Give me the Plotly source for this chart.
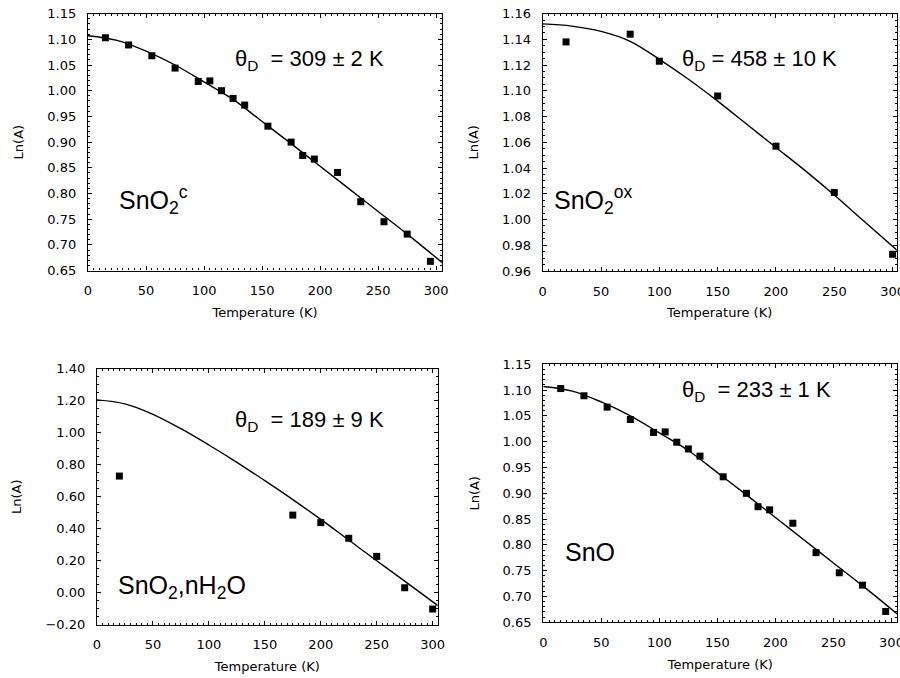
import plotly.graph_objects as go

# ---------------- data ----------------
# Panel 1 : SnO2^c
t_c = [15, 35, 55, 75, 95, 105, 115, 125, 135, 155, 175, 185, 195, 215, 235, 255, 275, 295]
ln_c = [1.103, 1.089, 1.068, 1.044, 1.018, 1.019, 1.000, 0.985, 0.972, 0.931, 0.900, 0.874,
        0.867, 0.841, 0.784, 0.745, 0.721, 0.668]
fit_t_c = [0, 25, 50, 75, 100, 125, 150, 175, 200, 225, 250, 275, 305]
fit_c = [1.107, 1.098, 1.077, 1.050, 1.017, 0.983, 0.940, 0.897, 0.853, 0.809, 0.765, 0.721, 0.666]

# Panel 2 : SnO2^ox
t_ox = [20, 75, 100, 150, 200, 250, 300]
ln_ox = [1.138, 1.144, 1.123, 1.096, 1.057, 1.021, 0.973]
fit_t_ox = [0, 25, 50, 75, 100, 125, 150, 175, 200, 225, 250, 275, 304]
fit_ox = [1.152, 1.1503, 1.1462, 1.1385, 1.1245, 1.109, 1.092, 1.074, 1.056, 1.038, 1.019, 0.999, 0.976]

# Panel 3 : SnO2,nH2O
t_h = [20, 175, 200, 225, 250, 275, 300]
ln_h = [0.729, 0.485, 0.438, 0.340, 0.227, 0.031, -0.102]
fit_t_h = [0, 25, 50, 75, 100, 125, 150, 175, 200, 225, 250, 275, 305]
fit_h = [1.205, 1.180, 1.115, 1.025, 0.923, 0.815, 0.700, 0.582, 0.458, 0.329, 0.200, 0.072, -0.082]

# Panel 4 : SnO
t_o = [15, 35, 55, 75, 95, 105, 115, 125, 135, 155, 175, 185, 195, 215, 235, 255, 275, 295]
ln_o = [1.103, 1.089, 1.067, 1.043, 1.018, 1.019, 0.999, 0.986, 0.972, 0.932, 0.900, 0.874,
        0.868, 0.842, 0.785, 0.746, 0.722, 0.671]
fit_t_o = [0, 25, 50, 75, 100, 125, 150, 175, 200, 225, 250, 275, 305]
fit_o = [1.107, 1.098, 1.077, 1.050, 1.017, 0.983, 0.940, 0.897, 0.853, 0.809, 0.765, 0.721, 0.666]

theta_labels = ["θ<sub>D</sub>\u00a0 = 309 ± 2 K", "θ<sub>D</sub> = 458 ± 10 K",
                "θ<sub>D</sub>\u00a0 = 189 ± 9 K", "θ<sub>D</sub>\u00a0 = 233 ± 1 K"]
sample_labels = ["SnO<sub>2</sub><sup>c</sup>", "SnO<sub>2</sub><sup>ox</sup>",
                 "SnO<sub>2</sub>,nH<sub>2</sub>O", "SnO"]
x_title = "Temperature (K)"
y_title = "Ln(A)"

# ---------------- layout ----------------
W, H = 900, 678
FONT = "Liberation Sans, Arial, sans-serif"
TICKFONT = "DejaVu Sans, sans-serif"

panels = [
    dict(t=t_c, y=ln_c, ft=fit_t_c, fy=fit_c, xd=(88, 442), yd=(13.6, 270.6),
         xr=[0, 305], yr=[0.65, 1.15], dy=0.05, mdy=0.01, th=(233, 60), sp=(117, 200)),
    dict(t=t_ox, y=ln_ox, ft=fit_t_ox, fy=fit_ox, xd=(542.7, 896.7), yd=(13.6, 271),
         xr=[0, 303.5], yr=[0.96, 1.16], dy=0.02, mdy=0.005, th=(680, 60), sp=(552, 200)),
    dict(t=t_h, y=ln_h, ft=fit_t_h, fy=fit_h, xd=(97, 437.7), yd=(368.7, 624.7),
         xr=[0, 304.5], yr=[-0.2, 1.4], dy=0.2, mdy=0.05, th=(233, 421), sp=(116, 587)),
    dict(t=t_o, y=ln_o, ft=fit_t_o, fy=fit_o, xd=(543.3, 897.3), yd=(364.3, 622.3),
         xr=[0, 305], yr=[0.65, 1.15], dy=0.05, mdy=0.01, th=(680, 391), sp=(563, 552)),
]

fig = go.Figure()
layout = dict(width=W, height=H, autosize=False, margin=dict(l=0, r=0, t=0, b=0, pad=0, autoexpand=False),
              paper_bgcolor="white", plot_bgcolor="white", showlegend=False,
              font=dict(family=FONT, color="black"))
annotations = []

for i, p in enumerate(panels):
    n = "" if i == 0 else str(i + 1)
    xa, ya = "x" + n, "y" + n
    fig.add_trace(go.Scatter(x=p["ft"], y=p["fy"], mode="lines",
                             line=dict(color="black", width=1.4, shape="spline", smoothing=1.0),
                             xaxis=xa, yaxis=ya, hoverinfo="skip"))
    fig.add_trace(go.Scatter(x=p["t"], y=p["y"], mode="markers", cliponaxis=False,
                             marker=dict(symbol="square", size=7, color="black"),
                             xaxis=xa, yaxis=ya))
    common = dict(showline=True, linecolor="black", linewidth=1.3, mirror="allticks",
                  ticks="inside", ticklen=4, tickcolor="black", showgrid=False, zeroline=False,
                  automargin=False,
                  tickfont=dict(family=TICKFONT, size=13, color="black"))
    layout["xaxis" + n] = dict(common, domain=[p["xd"][0] / W, p["xd"][1] / W], range=p["xr"],
                               anchor=ya, tick0=0, dtick=50, ticklabelstandoff=8,
                               ticklabeloverflow="allow",
                               minor=dict(ticks="inside", ticklen=2, dtick=5, tickcolor="black"),
                               title=dict(text=x_title, font=dict(family=TICKFONT, size=13), standoff=10))
    layout["yaxis" + n] = dict(common, domain=[1 - p["yd"][1] / H, 1 - p["yd"][0] / H], range=p["yr"],
                               anchor=xa, tick0=p["yr"][0], dtick=p["dy"], tickformat=".2f",
                               ticklabelstandoff=8,
                               minor=dict(ticks="inside", ticklen=2, dtick=p["mdy"], tickcolor="black"),
                               title=dict(text=y_title, font=dict(family=TICKFONT, size=13), standoff=20))
    annotations.append(dict(text=theta_labels[i], x=p["th"][0] / W, y=1 - p["th"][1] / H,
                            xref="paper", yref="paper", showarrow=False, xanchor="left", yanchor="middle",
                            font=dict(family=FONT, size=22, color="black")))
    annotations.append(dict(text=sample_labels[i], x=p["sp"][0] / W, y=1 - p["sp"][1] / H,
                            xref="paper", yref="paper", showarrow=False, xanchor="left", yanchor="middle",
                            font=dict(family=FONT, size=25, color="black")))

layout["annotations"] = annotations
fig.update_layout(**layout)
fig.write_html("out.html", config={"displayModeBar": False},
               post_script="document.body.style.margin = '0';")
